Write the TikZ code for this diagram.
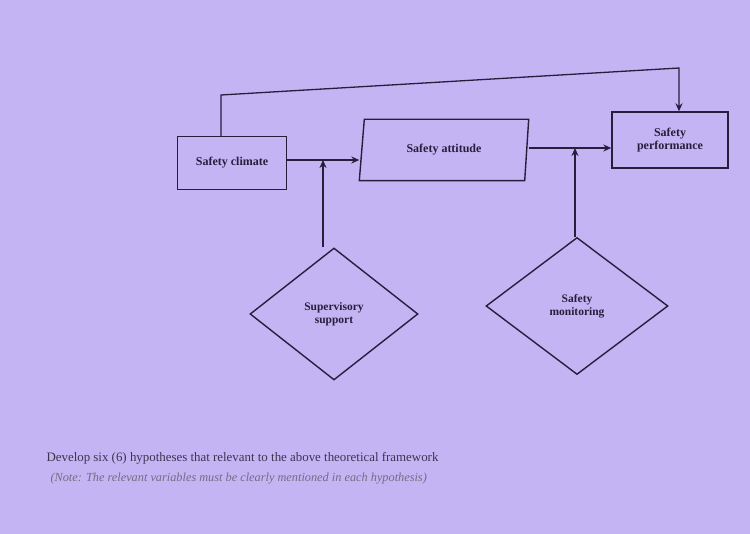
\documentclass[tikz,border=0pt]{standalone}
\usepackage{fontspec}
\setmainfont{Liberation Serif}
\usetikzlibrary{shapes.geometric,arrows.meta}
\definecolor{bg}{RGB}{196,180,244}
\definecolor{ink}{RGB}{40,30,60}
\begin{document}
\begin{tikzpicture}[x=1pt,y=-1pt,
  box/.style={draw=ink,line width=1.4pt,align=center,font=\bfseries\fontsize{12}{13}\selectfont,text=ink},
  dia/.style={draw=ink,line width=1.4pt,diamond,align=center,font=\bfseries\fontsize{11.5}{13}\selectfont,text=ink,inner sep=0pt},
  con/.style={draw=ink,line width=1.3pt},
  arr/.style={con,-{Stealth[length=8pt,width=7pt]}},
  txt/.style={anchor=west,text=ink!90,font=\fontsize{12.9}{14}\selectfont}]
\fill[bg] (0,0) rectangle (750,534);
\useasboundingbox (0,0) rectangle (750,534);
\node[box,minimum width=109pt,minimum height=53pt] (clim) at (232,163) {Safety climate};
\node[box,draw=none,minimum width=168pt,minimum height=60pt] (att) at (444,150) {Safety attitude};
\draw[con,line width=1.4pt] ([xshift=5pt]att.north west) -- (att.north east) -- ([xshift=-4pt]att.south east) -- (att.south west) -- cycle;
\node[box,minimum width=116pt,minimum height=56pt] (perf) at (670,140) {Safety\\performance};
\node[dia,minimum width=168pt,minimum height=132pt] (sup) at (334,314) {Supervisory\\support};
\node[dia,minimum width=182pt,minimum height=137pt] (mon) at (577,306) {Safety\\monitoring};
\coordinate (c1) at (221,95);
\coordinate (c2) at (679,68);
\coordinate (j1) at (323,160);
\coordinate (j2) at (575,148);
\draw[arr] (clim.north -| c1) -- (c1) -- (c2) -- (c2 |- perf.north);
\draw[arr] (clim.east |- j1) -- (j1 -| att.west);
\draw[arr] (sup.north -| j1) -- (j1);
\draw[arr] (att.east |- j2) -- (j2 -| perf.west);
\draw[arr] (mon.north -| j2) -- (j2);
\node[txt] (t1) at (43,458) {Develop six (6) hypotheses that relevant to the above theoretical framework};
\node[txt,font=\itshape\fontsize{12.3}{14}\selectfont,text=ink!65] (t2) at (47,479) {(Note: The relevant variables must be clearly mentioned in each hypothesis)};
\end{tikzpicture}
\end{document}
